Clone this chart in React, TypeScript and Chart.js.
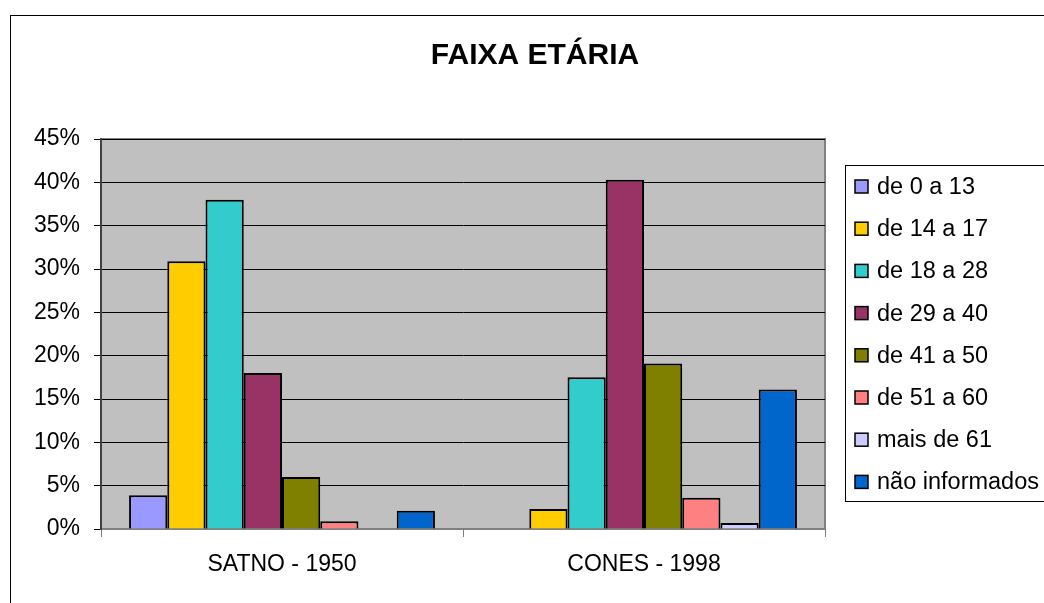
import React, { useEffect, useRef } from "react";
import { Chart, registerables } from "chart.js";

Chart.register(...registerables);

const categories = ["SATNO - 1950", "CONES - 1998"];
const seriesLabels = [
  "de 0 a 13",
  "de 14 a 17",
  "de 18 a 28",
  "de 29 a 40",
  "de 41 a 50",
  "de 51 a 60",
  "mais de 61",
  "não informados",
];
const seriesColors = [
  "#9999FF",
  "#FFCC00",
  "#33CCCC",
  "#993366",
  "#808000",
  "#FF8080",
  "#CCCCFF",
  "#0066CC",
];
// values in fraction (percent / 100), one array per age band: [SATNO, CONES]
const de0a13 = [0.039, 0];
const de14a17 = [0.309, 0.023];
const de18a28 = [0.38, 0.175];
const de29a40 = [0.18, 0.403];
const de41a50 = [0.06, 0.191];
const de51a60 = [0.009, 0.036];
const maisDe61 = [0, 0.007];
const naoInformados = [0.021, 0.161];
const seriesValues = [de0a13, de14a17, de18a28, de29a40, de41a50, de51a60, maisDe61, naoInformados];

const yTickMax = 0.45;
const yTickStep = 0.05;
const titleText = "FAIXA ETÁRIA";

const FONT = "'Liberation Sans', Arial, sans-serif";

const decorPlugin = {
  id: "decor",
  beforeDraw(chart: any) {
    const { ctx, chartArea } = chart;
    const { left, top, right, bottom } = chartArea;
    ctx.save();
    ctx.fillStyle = "#FFFFFF";
    ctx.fillRect(0, 0, chart.width, chart.height);
    // outer frame
    ctx.strokeStyle = "#000000";
    ctx.lineWidth = 1;
    ctx.strokeRect(10.5, 15.5, chart.width + 20, chart.height + 20);
    // plot background
    ctx.fillStyle = "#C0C0C0";
    ctx.fillRect(left, top, right - left, bottom - top);
    ctx.strokeStyle = "#808080";
    ctx.lineWidth = 2;
    ctx.strokeRect(left, top, right - left, bottom - top);
    ctx.restore();
  },
  afterDraw(chart: any) {
    const { ctx } = chart;
    ctx.save();
    // title
    ctx.fillStyle = "#000000";
    ctx.font = `bold 30px ${FONT}`;
    ctx.textAlign = "center";
    ctx.textBaseline = "middle";
    ctx.fillText(titleText, 535, 56);
    // legend
    const bx = 845.5;
    const by = 165.5;
    ctx.strokeStyle = "#000000";
    ctx.lineWidth = 1;
    ctx.fillStyle = "#FFFFFF";
    ctx.fillRect(bx, by, 210, 336);
    ctx.strokeRect(bx, by, 210, 336);
    ctx.font = `23.5px ${FONT}`;
    ctx.textAlign = "left";
    ctx.textBaseline = "middle";
    chart.data.datasets.forEach((ds: any, i: number) => {
      const cy = 186.5 + i * 42.2;
      ctx.fillStyle = ds.backgroundColor;
      ctx.fillRect(855, cy - 6.5, 13, 13);
      ctx.strokeStyle = "#000000";
      ctx.lineWidth = 1.5;
      ctx.strokeRect(855, cy - 6.5, 13, 13);
      ctx.fillStyle = "#000000";
      ctx.fillText(ds.label, 877, cy + 1);
    });
    ctx.restore();
  },
};

export default function App() {
  const canvasRef = useRef<HTMLCanvasElement | null>(null);

  useEffect(() => {
    document.body.style.margin = "0";
    const canvas = canvasRef.current;
    if (!canvas) return;
    const chart = new Chart(canvas, {
      type: "bar",
      data: {
        labels: categories,
        datasets: seriesLabels.map((label, i) => ({
          label,
          data: seriesValues[i],
          backgroundColor: seriesColors[i],
          borderColor: "#000000",
          borderWidth: 2,
          categoryPercentage: 0.845,
          barPercentage: 1.0,
        })),
      },
      options: {
        animation: false,
        responsive: false,
        maintainAspectRatio: false,
        devicePixelRatio: 1,
        layout: { padding: { top: 139, right: 219, left: 0, bottom: 0 } },
        plugins: {
          legend: { display: false },
          title: { display: false },
          tooltip: { enabled: false },
        },
        scales: {
          x: {
            offset: true,
            grid: {
              display: true,
              offset: true,
              drawOnChartArea: false,
              drawTicks: true,
              tickLength: 8,
              color: "#808080",
              lineWidth: 1,
            },
            border: { display: true, color: "#808080", width: 2 },
            ticks: {
              color: "#000000",
              font: { family: FONT, size: 23 },
              padding: 14,
              maxRotation: 0,
            },
            afterFit(scale: any) {
              scale.height = 74;
            },
          },
          y: {
            min: 0,
            max: yTickMax,
            grid: {
              color: "#000000",
              lineWidth: 1,
              drawTicks: true,
              tickLength: 7,
            },
            border: { display: true, color: "#404040", width: 2 },
            ticks: {
              stepSize: yTickStep,
              color: "#000000",
              font: { family: FONT, size: 23 },
              padding: 14,
              callback: (v: any) => `${Math.round(Number(v) * 100)}%`,
            },
            afterFit(scale: any) {
              scale.width = 101;
            },
          },
        },
      },
      plugins: [decorPlugin],
    });
    return () => chart.destroy();
  }, []);

  return (
    <div style={{ width: 1044, height: 603, position: "relative" }}>
      <canvas ref={canvasRef} width={1044} height={603} style={{ display: "block" }} />
    </div>
  );
}
